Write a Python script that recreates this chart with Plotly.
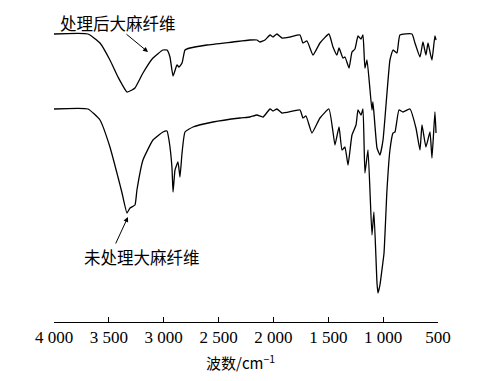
import plotly.graph_objects as go

# Treated hemp fibre (处理后大麻纤维)
wn_treated = [4000, 3690, 3581, 3490, 3417, 3335, 3289, 3262, 3189, 3098, 3007, 2970, 2943, 2915,
              2879, 2861, 2833, 2806, 2760, 2606, 2369, 2214, 2150, 2123, 2077, 2031, 2004, 1968,
              1922, 1849, 1758, 1731, 1694, 1639, 1576, 1494, 1457, 1421, 1402, 1366, 1348, 1311,
              1284, 1257, 1229, 1202, 1184, 1166, 1147, 1102, 1093, 1056, 1029, 1001, 965, 938,
              910, 874, 847, 737, 710, 664, 637, 610, 591, 573, 555, 528, 518]
t_treated = [288, 288, 279, 262, 245, 230, 232, 234, 249, 264, 272, 272, 265, 246,
             257, 255, 259, 272, 274, 277, 280, 282, 282, 280, 282, 287, 285, 288,
             284, 285, 287, 279, 281, 267, 279, 288, 275, 267, 274, 264, 265, 254,
             270, 273, 286, 283, 287, 254, 262, 212, 220, 174, 167, 182, 229, 262,
             272, 269, 287, 288, 279, 265, 280, 267, 279, 270, 262, 286, 282]

# Untreated hemp fibre (未处理大麻纤维)
wn_untreated = [4000, 3690, 3581, 3490, 3417, 3380, 3335, 3307, 3262, 3244, 3189, 3098, 3007, 2970,
                2952, 2925, 2915, 2897, 2870, 2852, 2833, 2806, 2733, 2551, 2305, 2214, 2150, 2095,
                2031, 2004, 1968, 1922, 1758, 1731, 1703, 1649, 1576, 1494, 1457, 1439, 1402, 1375,
                1348, 1320, 1284, 1247, 1229, 1202, 1184, 1166, 1138, 1102, 1084, 1056, 1047, 1029,
                1011, 992, 965, 938, 910, 892, 856, 819, 756, 701, 664, 646, 610, 573, 555, 528, 518]
t_untreated = [213, 213, 202, 175, 145, 129, 109, 114, 117, 132, 162, 182, 190, 191,
               182, 155, 130, 152, 160, 145, 169, 190, 195, 200, 204, 205, 207, 205,
               213, 211, 213, 209, 212, 204, 206, 189, 204, 213, 190, 177, 195, 172,
               175, 157, 187, 197, 212, 207, 213, 149, 172, 87, 110, 39, 29, 37,
               52, 69, 132, 172, 189, 190, 212, 210, 213, 194, 172, 197, 175, 190, 164, 210, 189]

tick_vals = [4000, 3500, 3000, 2500, 2000, 1500, 1000, 500]
tick_text = ["4 000", "3 500", "3 000", "2 500", "2 000", "1 500", "1 000", "500"]

label_treated = "处理后大麻纤维"
label_untreated = "未处理大麻纤维"
x_title = "波数/cm<sup>−1</sup>"

fig = go.Figure()
for wn, t in [(wn_treated, t_treated), (wn_untreated, t_untreated)]:
    fig.add_trace(go.Scatter(x=wn, y=t, mode="lines",
                             line=dict(color="black", width=1.3, shape="spline", smoothing=0.4),
                             showlegend=False, hoverinfo="skip"))

cjk = "Noto Sans CJK SC"
serif = "Liberation Serif, Times New Roman, serif"

# page body has an 8px default margin: compensate so the plot lands where the reference has it
fig.update_layout(
    width=491, height=373,
    margin=dict(l=46, r=61, t=2, b=59, pad=0),
    paper_bgcolor="white", plot_bgcolor="white",
    xaxis=dict(range=[4000, 500], tickvals=tick_vals, ticktext=tick_text,
               ticks="inside", ticklen=5, tickwidth=1, tickcolor="black",
               showline=True, linecolor="black", linewidth=1, showgrid=False, zeroline=False,
               tickfont=dict(family=serif, size=17, color="black")),
    yaxis=dict(range=[0, 312], visible=False),
    annotations=[
        dict(x=3143, y=270, ax=3353, ay=289, xref="x", yref="y", axref="x", ayref="y",
             text="", showarrow=True, arrowhead=2, arrowsize=1, arrowwidth=1, arrowcolor="black"),
        dict(x=3326, y=105, ax=3444, ay=77, xref="x", yref="y", axref="x", ayref="y",
             text="", showarrow=True, arrowhead=2, arrowsize=1, arrowwidth=1, arrowcolor="black"),
        dict(x=3417, y=299, xref="x", yref="y", text=label_treated, showarrow=False,
             font=dict(family=cjk, size=16.5, color="black")),
        dict(x=3198, y=65, xref="x", yref="y", text=label_untreated, showarrow=False,
             font=dict(family=cjk, size=16.5, color="black")),
        dict(x=(240 - 54) / (438 - 54), y=-(362 - 322) / 312, xref="paper", yref="paper",
             text=x_title, showarrow=False, xanchor="center", yanchor="middle",
             font=dict(family=cjk, size=15, color="black")),
    ],
)

fig.write_html("out.html")
